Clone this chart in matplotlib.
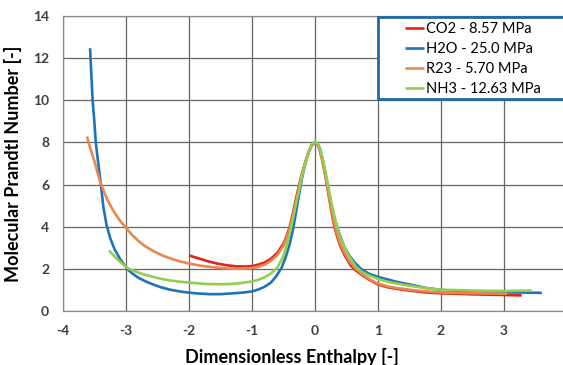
import matplotlib
matplotlib.use("Agg")
import matplotlib.pyplot as plt
from matplotlib.patches import Rectangle

plt.rcParams['font.family'] = ['Lato', 'DejaVu Sans']
plt.rcParams['axes.unicode_minus'] = False

# ---- data -------------------------------------------------------------------
co2_x = [-1.99, -1.85, -1.7, -1.55, -1.4, -1.25, -1.1, -1.0, -0.9, -0.8, -0.7,
         -0.6, -0.5, -0.45, -0.40, -0.35, -0.30, -0.25, -0.20, -0.15, -0.10,
         -0.05, 0.0, 0.04, 0.08, 0.12, 0.16, 0.20, 0.25, 0.30, 0.35, 0.40,
         0.47, 0.57, 0.65, 0.75, 0.85, 1.0, 1.15, 1.3, 1.5, 1.75, 2.0, 2.5,
         3.0, 3.28]
co2_y = [2.63, 2.5, 2.36, 2.25, 2.17, 2.12, 2.11, 2.13, 2.2, 2.3, 2.48,
         2.75, 3.2, 3.55, 4.0, 4.65, 5.35, 6.0, 6.6, 7.1, 7.55,
         7.88, 8.0, 7.9, 7.6, 7.1, 6.5, 5.8, 4.9, 4.1, 3.55, 3.1,
         2.65, 2.15, 1.92, 1.7, 1.5, 1.26, 1.13, 1.05, 0.97, 0.88, 0.84, 0.79,
         0.76, 0.74]

h2o_x = [-3.57, -3.55, -3.53, -3.50, -3.48, -3.44, -3.40, -3.36, -3.31, -3.25,
         -3.18, -3.09, -2.98, -2.9, -2.8, -2.7, -2.57, -2.45, -2.3, -2.15,
         -2.0, -1.85, -1.67, -1.5, -1.35, -1.2, -1.1, -1.0, -0.9, -0.8, -0.7,
         -0.615, -0.53, -0.46, -0.40, -0.35, -0.30, -0.25, -0.20, -0.15,
         -0.10, -0.05, 0.0, 0.04, 0.08, 0.12, 0.16, 0.20, 0.25, 0.30, 0.35,
         0.40, 0.47, 0.55, 0.63, 0.73, 0.85, 1.0, 1.15, 1.3, 1.5, 1.75, 2.0,
         2.25, 2.5, 3.0, 3.6]
h2o_y = [12.47, 11.2, 10.0, 8.9, 8.0, 7.0, 6.04, 4.95, 4.1, 3.45,
         2.92, 2.45, 2.0, 1.78, 1.57, 1.42, 1.26, 1.13, 1.01, 0.93,
         0.87, 0.83, 0.8, 0.8, 0.83, 0.86, 0.89, 0.93, 1.02, 1.15, 1.35,
         1.65, 2.05, 2.6, 3.2, 3.86, 4.7, 5.6, 6.4, 7.05,
         7.55, 7.88, 8.0, 7.95, 7.7, 7.2, 6.6, 5.9, 5.1, 4.5, 4.0,
         3.55, 3.0, 2.6, 2.3, 2.0, 1.78, 1.62, 1.5, 1.38, 1.26, 1.1, 1.0,
         0.95, 0.92, 0.89, 0.86]

r23_x = [-3.62, -3.56, -3.5, -3.45, -3.40, -3.3, -3.2, -3.1, -3.0, -2.9, -2.8,
         -2.7, -2.57, -2.45, -2.3, -2.15, -2.0, -1.8, -1.6, -1.4, -1.2, -1.0,
         -0.9, -0.8, -0.7, -0.6, -0.5, -0.45, -0.40, -0.35, -0.30, -0.25,
         -0.20, -0.15, -0.10, -0.05, 0.0, 0.04, 0.08, 0.12, 0.16, 0.20, 0.25,
         0.30, 0.35, 0.40, 0.47, 0.55, 0.63, 0.72, 0.85, 1.0, 1.15, 1.3, 1.5,
         1.75, 2.0, 2.5, 3.05]
r23_y = [8.28, 7.65, 7.1, 6.55, 6.04, 5.3, 4.75, 4.3, 3.95, 3.6, 3.32,
         3.08, 2.85, 2.67, 2.5, 2.36, 2.25, 2.14, 2.07, 2.02, 2.0, 2.04,
         2.1, 2.2, 2.38, 2.65, 3.1, 3.45, 3.9, 4.5, 5.2, 5.9,
         6.55, 7.1, 7.55, 7.88, 8.0, 7.9, 7.6, 7.1, 6.5, 5.85, 5.0,
         4.2, 3.65, 3.2, 2.75, 2.35, 2.05, 1.82, 1.53, 1.3, 1.17, 1.09, 1.01,
         0.93, 0.88, 0.84, 0.82]

nh3_x = [-3.27, -3.2, -3.1, -2.98, -2.9, -2.8, -2.7, -2.57, -2.45, -2.3, -2.15,
         -2.0, -1.85, -1.72, -1.5, -1.35, -1.2, -1.0, -0.9, -0.8, -0.7, -0.6,
         -0.5, -0.45, -0.40, -0.35, -0.30, -0.25, -0.20, -0.15, -0.10, -0.05,
         0.0, 0.04, 0.08, 0.12, 0.16, 0.20, 0.25, 0.30, 0.35, 0.40, 0.47,
         0.55, 0.65, 0.75, 0.85, 1.0, 1.15, 1.3, 1.5, 1.75, 2.0, 2.5, 3.0,
         3.44]
nh3_y = [2.87, 2.65, 2.35, 2.05, 1.93, 1.82, 1.72, 1.62, 1.53, 1.45, 1.39,
         1.35, 1.31, 1.28, 1.27, 1.28, 1.32, 1.4, 1.48, 1.6, 1.78, 2.05,
         2.6, 3.1, 3.7, 4.4, 5.1, 5.8, 6.5, 7.05, 7.55, 7.9,
         8.05, 7.95, 7.7, 7.25, 6.7, 6.1, 5.3, 4.6, 4.0, 3.5, 3.0,
         2.55, 2.1, 1.85, 1.7, 1.52, 1.39, 1.3, 1.2, 1.09, 1.01, 0.97, 0.95,
         0.97]

labels = ['CO2 - 8.57 MPa', 'H2O - 25.0 MPa', 'R23 - 5.70 MPa', 'NH3 - 12.63 MPa']
colors = ['#e2231a', '#1f73b7', '#e8874f', '#92cf50']
x_ticks = [-4, -3, -2, -1, 0, 1, 2, 3]
y_ticks = [0, 2, 4, 6, 8, 10, 12, 14]

# ---- figure -----------------------------------------------------------------
fig = plt.figure(figsize=(5.63, 3.65), dpi=100)
ax = fig.add_axes([63 / 563, 54 / 365, 504 / 563, 295 / 365])

series = [(co2_x, co2_y), (h2o_x, h2o_y), (r23_x, r23_y), (nh3_x, nh3_y)]
for (xs, ys), lab, col in zip(series, labels, colors):
    ax.plot(xs, ys, color=col, lw=1.9, label=lab, solid_capstyle='butt')

ax.set_xlim(-4, 4)
ax.set_ylim(0, 14)
ax.set_xticks(x_ticks)
ax.set_yticks(y_ticks)
ax.grid(True, color='#666666', lw=0.9)
ax.set_axisbelow(True)
for sp in ax.spines.values():
    sp.set_color('#8a8a8a')
    sp.set_linewidth(0.9)
ax.tick_params(length=0, labelsize=10, colors='#404040')
ax.tick_params(axis='x', pad=10)
ax.tick_params(axis='y', pad=10)
for t in ax.get_xticklabels() + ax.get_yticklabels():
    t.set_fontweight('bold')

ax.set_xlabel('Dimensionless Enthalpy [-]', fontsize=13, fontweight='bold')
ax.xaxis.set_label_coords((292 - 63) / 504, -0.125)
ax.set_ylabel('Molecular Prandtl Number [-]', fontsize=13, fontweight='bold', labelpad=8)

# legend box (blue frame, clipped by the right image edge like the original)
box = Rectangle((378 / 563, 1 - 99 / 365), 200 / 563, 82 / 365,
                transform=fig.transFigure, facecolor='white',
                edgecolor='#1f6aa8', lw=2, zorder=5, clip_on=False)
ax.add_artist(box)
leg = ax.legend(loc='upper left', bbox_to_anchor=(403 / 563, 1 - 20 / 365),
                bbox_transform=fig.transFigure, frameon=False, fontsize=10.5,
                handlelength=1.3, handletextpad=0.1, labelspacing=0.4,
                borderpad=0.15, borderaxespad=0)
leg.set_zorder(6)

fig.savefig('out.png', dpi=100)
